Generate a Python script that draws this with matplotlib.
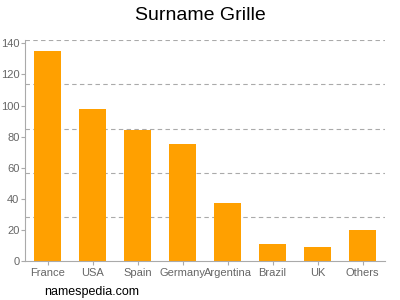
import matplotlib
matplotlib.use("Agg")
import matplotlib.pyplot as plt
import numpy as np

plt.rcParams['font.family'] = ['Liberation Sans', 'DejaVu Sans']

countries = ["France", "USA", "Spain", "Germany", "Argentina", "Brazil", "UK", "Others"]
counts = [135, 98, 84, 75, 37, 11, 9, 20]
yticks = [0, 20, 40, 60, 80, 100, 120, 140]
ymax = 142

fig = plt.figure(figsize=(4, 3), dpi=100)
ax = fig.add_axes([0.0625, 0.13, 0.9, 0.736])

x = np.arange(len(countries))
ax.bar(x, counts, width=0.62, color="#ffa000", zorder=2)

# grid lines split the range in five, not at the ticks
for g in np.linspace(0, ymax, 6)[1:]:
    ax.axhline(g, color="#aaaaaa", linestyle=(0, (4, 3)), linewidth=0.8, zorder=1)

ax.set_xlim(-0.5, len(countries) - 0.5)
ax.set_ylim(0, ymax)
ax.set_xticks(x)
ax.set_xticklabels(countries)
ax.set_yticks(yticks)

for s in ["top", "right"]:
    ax.spines[s].set_visible(False)
for s in ["left", "bottom"]:
    ax.spines[s].set_color("#aaaaaa")
ax.tick_params(colors="#aaaaaa", labelcolor="#666666", labelsize=8, length=3, width=0.8)
ax.tick_params(axis="x", pad=2)
ax.tick_params(axis="y", pad=1)

fig.text(0.5, 0.95, "Surname Grille", ha="center", va="center", fontsize=14)
fig.text(0.11, 0.027, "namespedia.com", ha="left", va="center", fontsize=9)

fig.savefig("out.png")
